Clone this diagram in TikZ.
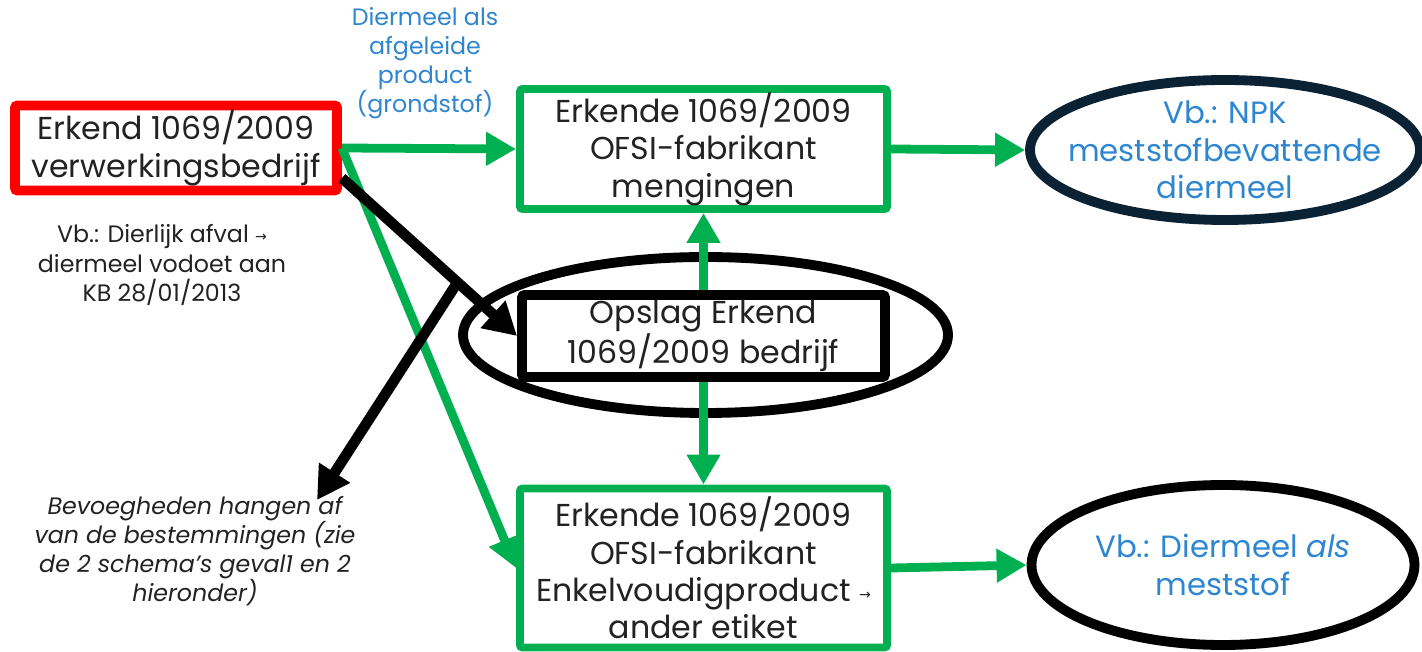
\documentclass[tikz,border=0pt]{standalone}
\usepackage{fontspec}
\setmainfont{Poppins}
\newfontfamily\symfont{DejaVu Sans}
\usetikzlibrary{arrows.meta,shapes.geometric}
\definecolor{ofsigreen}{HTML}{00B050}
\definecolor{notered}{HTML}{FF0000}
\definecolor{noteblue}{HTML}{2E86D1}
\definecolor{txtgray}{HTML}{222222}
\definecolor{navy}{HTML}{0A2233}
\newcommand{\smallto}{{\symfont\fontsize{8}{8}\selectfont\raisebox{1pt}{→}}}

\begin{document}
\begin{tikzpicture} [align=center,
    box/.style={draw, line width=4.5pt, rounded corners=1.5pt, fill=white, inner sep=0pt,
      text=txtgray, font=\fontsize{18}{21.3}\selectfont},
    oval/.style={ellipse, draw, line width=5.6pt, inner sep=0pt,
      font=\fontsize{17.5}{21.3}\selectfont},
    note/.style={text=txtgray, font=\fontsize{13.5}{16.6}\selectfont},
    garrow/.style={draw=ofsigreen, line width=5pt, -{Triangle[length=6mm,width=6.4mm]}},
    karrow/.style={draw=black, line width=6pt, -{Triangle[length=6.5mm,width=7mm]}}]
  \useasboundingbox (0,0) rectangle (28.44,13.02);
  \path  (3.52,10.06)   node[box, draw=notered, line width=5.6pt, minimum width=6.44cm, minimum height=1.7cm] (V)
                          {Erkend 1069/2009\\verwerkingsbedrijf}
          (14.07,10.04)  node[box, draw=ofsigreen, minimum width=7.34cm, minimum height=2.4cm] (OM)
                          {Erkende 1069/2009\\OFSI-fabrikant\\mengingen}
          (24.5,10.02)   node[oval, draw=navy, text=noteblue, inner xsep=-0.4cm, inner ysep=-0.1cm,
                              minimum width=7.8cm, minimum height=2.8cm] (NPK)
                          {Vb.: NPK\\meststofbevattende\\diermeel}
          (14.11,6.32)   node[oval, minimum width=9.7cm, minimum height=3.12cm] (Oring) {}
          (14.07,6.3)    node[box, draw=black, line width=5.6pt, minimum width=7.26cm, minimum height=1.64cm] (O)
                          {Opslag Erkend\\1069/2009 bedrijf}
          (14.07,1.66)   node[box, draw=ofsigreen, minimum width=7.34cm, minimum height=3.18cm] (OE)
                          {Erkende 1069/2009\\OFSI-fabrikant\\Enkelvoudigproduct \smallto\\ander etiket}
          (24.46,1.72)   node[oval, text=noteblue, minimum width=7.66cm, minimum height=3.2cm] (DM)
                          {Vb.: Diermeel \textit{als}\\meststof}
          (3.24,7.72)    node[note] (Vb) {Vb.: Dierlijk afval \smallto\\diermeel vodoet aan\\KB 28/01/2013}
          (8.5,11.76)    node[note, text=noteblue] (grond) {Diermeel als\\afgeleide\\product\\(grondstof)}
          (3.9,2.0)      node[note, font=\fontsize{13.5}{16.6}\selectfont\itshape] (bevoegd)
                          {Bevoegheden hangen af\\van de bestemmingen (zie\\de 2 schema’s geval1 en 2\\hieronder)};
  \coordinate (tip) at (6.34,3.02);
  % groene stromen
  \draw [garrow] (V.east) to (OM.west);
  \draw [garrow] (V.east) to (OE.west);
  \draw [garrow] (O.north) to (OM.south);
  \draw [garrow] (O.south) to (OE.north);
  \draw [garrow] (OM.east) to (NPK.west);
  \draw [garrow] (OE.east) to (DM.west);
  % zwarte pijlen
  \draw [karrow] ([yshift=-0.6cm]V.east) -- coordinate[pos=0.66] (split) (O.west);
  \draw [karrow] (split) to (tip);
\end{tikzpicture}
\end{document}
